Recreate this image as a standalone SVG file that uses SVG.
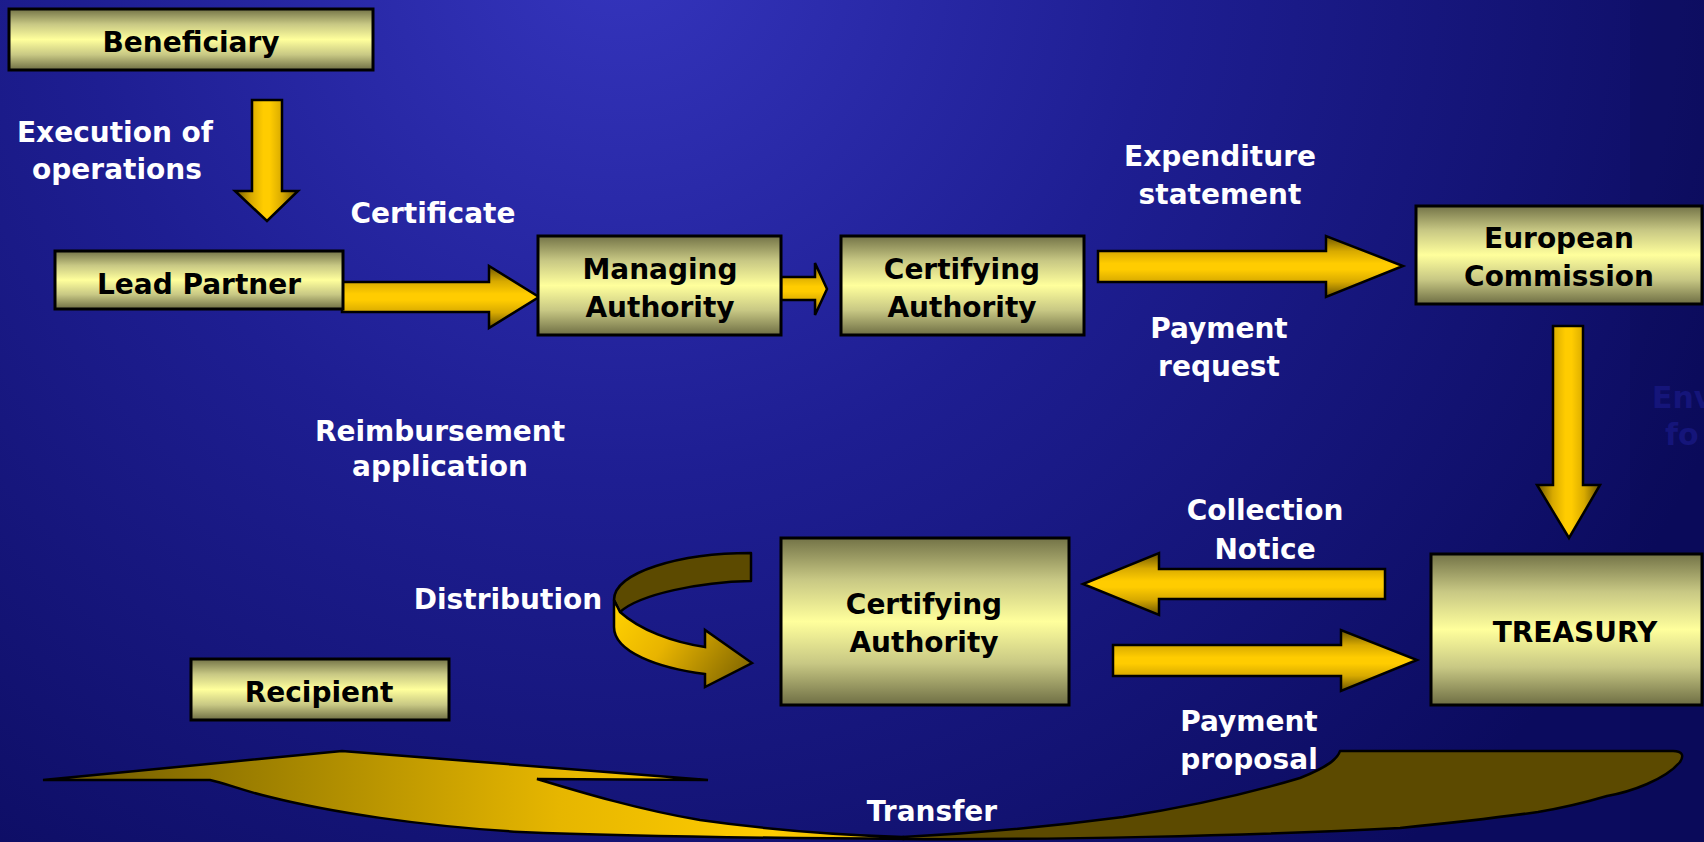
<svg xmlns="http://www.w3.org/2000/svg" width="1704" height="842" viewBox="0 0 1704 842">
<defs>
<radialGradient id="bg" gradientUnits="userSpaceOnUse" cx="620" cy="-60" r="1200">
<stop offset="0" stop-color="#3535be"/>
<stop offset="0.45" stop-color="#1e1e92"/>
<stop offset="1" stop-color="#0b0b5e"/>
</radialGradient>
<linearGradient id="boxG" x1="0" y1="0" x2="0" y2="1">
<stop offset="0" stop-color="#737347"/>
<stop offset="0.25" stop-color="#c8c884"/>
<stop offset="0.5" stop-color="#ffff9c"/>
<stop offset="0.75" stop-color="#c8c884"/>
<stop offset="1" stop-color="#6e6e44"/>
</linearGradient>
<linearGradient id="hArr" x1="0" y1="0" x2="0" y2="1">
<stop offset="0" stop-color="#6a5400"/>
<stop offset="0.25" stop-color="#d8aa00"/>
<stop offset="0.45" stop-color="#ffcc00"/>
<stop offset="0.55" stop-color="#ffcc00"/>
<stop offset="0.75" stop-color="#d8aa00"/>
<stop offset="1" stop-color="#6a5400"/>
</linearGradient>
<linearGradient id="vArr" x1="0" y1="0" x2="1" y2="0">
<stop offset="0" stop-color="#6a5400"/>
<stop offset="0.25" stop-color="#d8aa00"/>
<stop offset="0.45" stop-color="#ffcc00"/>
<stop offset="0.55" stop-color="#ffcc00"/>
<stop offset="0.75" stop-color="#d8aa00"/>
<stop offset="1" stop-color="#6a5400"/>
</linearGradient>
<linearGradient id="distFront" gradientUnits="userSpaceOnUse" x1="620" y1="605" x2="740" y2="690">
<stop offset="0" stop-color="#ffd000"/>
<stop offset="0.4" stop-color="#e8b400"/>
<stop offset="1" stop-color="#7e6400"/>
</linearGradient>
<linearGradient id="transFront" gradientUnits="userSpaceOnUse" x1="43" y1="0" x2="903" y2="0">
<stop offset="0" stop-color="#6a5600"/>
<stop offset="0.3" stop-color="#a88800"/>
<stop offset="0.6" stop-color="#e6b600"/>
<stop offset="0.85" stop-color="#ffcc00"/>
<stop offset="0.97" stop-color="#e0b400"/>
<stop offset="1" stop-color="#6a5600"/>
</linearGradient>
<style>
.box{fill:url(#boxG);stroke:#000;stroke-width:3}
.nt{font-family:"DejaVu Sans",Verdana,sans-serif;font-weight:bold;font-size:28px;fill:#000;text-anchor:middle}
.lb{font-family:"DejaVu Sans",Verdana,sans-serif;font-weight:bold;font-size:28px;fill:#fff;text-anchor:middle}
.ha{fill:url(#hArr);stroke:#000;stroke-width:2.5;stroke-linejoin:miter}
.va{fill:url(#vArr);stroke:#000;stroke-width:2.5;stroke-linejoin:miter}
.back{fill:#5c4a00;stroke:#000;stroke-width:2.5;stroke-linejoin:round}
</style>
</defs>

<rect x="0" y="0" width="1704" height="842" fill="url(#bg)"/>
<rect x="1630" y="0" width="74" height="842" fill="#08084a" opacity="0.2"/>
<g id="faint-text" font-family="'DejaVu Sans',Verdana,sans-serif" font-weight="bold" font-size="30" fill="#15157a">
<text x="1652" y="408">Env</text>
<text x="1665" y="445">fo</text>
</g>

<g id="connectors">
<path id="c-exec" class="va" d="M252,100 H282 V191 H298 L267,221 L235,191 H252 Z"/>
<path id="c-lead-man" class="ha" d="M342,282 H489 V266 L539,297 L489,328 V312 H342 Z"/>
<path id="c-man-cert" class="ha" d="M781,277 H815 V263 L827,289 L815,315 V300 H781 Z"/>
<path id="c-cert-ec" class="ha" d="M1098,251 H1326 V236 L1403,266 L1326,297 V282 H1098 Z"/>
<path id="c-ec-tre" class="va" d="M1553,326 H1583 V485 H1600 L1569,538 L1537,485 H1553 Z"/>
<path id="c-collect" class="ha" d="M1385,569 V599 H1159 V615 L1083,584 L1159,553 V569 Z"/>
<path id="c-propose" class="ha" d="M1113,645 H1341 V630 L1417,660 L1341,691 V676 H1113 Z"/>
<g id="c-distribution">
<path class="back" d="M751,553 L751,581 C700,582 640,594 620,612 L614,600 C614,572 680,553 751,553 Z"/>
<path fill="url(#distFront)" stroke="#000" stroke-width="2.5" stroke-linejoin="miter" d="M614,600 L620,612 C640,630 672,642 705,647 L705,630 L752,663 L705,687 L705,674 C658,668 614,652 614,627 Z"/>
</g>
<g id="c-transfer">
<path class="back" d="M903,837 C960,834 1040,828 1123,817 C1200,805 1260,790 1300,778 C1330,766 1338,758 1340,751 L1673,751 C1683,751 1684,756 1680,762 C1665,780 1630,792 1607,796 C1580,804 1550,810 1538,812 C1480,820 1420,826 1400,828 C1250,836 1040,840 903,839 Z"/>
<path fill="url(#transFront)" stroke="#000" stroke-width="2.5" stroke-linejoin="miter" d="M43,780 L342,751 L708,780 L537,779 C580,792 640,810 700,820 C770,830 840,835 903,837 L903,839 C760,838 620,836 520,832 C420,826 330,812 270,797 C240,790 225,783 210,780 Z"/>
</g>
</g>

<g id="labels">
<text class="lb" x="115" y="142">Execution of</text>
<text class="lb" x="117" y="179">operations</text>
<text class="lb" x="433" y="223">Certificate</text>
<text class="lb" x="1220" y="166">Expenditure</text>
<text class="lb" x="1220" y="204">statement</text>
<text class="lb" x="1219" y="338">Payment</text>
<text class="lb" x="1219" y="376">request</text>
<text class="lb" x="440" y="441">Reimbursement</text>
<text class="lb" x="440" y="476">application</text>
<text class="lb" x="508" y="609">Distribution</text>
<text class="lb" x="1265" y="520">Collection</text>
<text class="lb" x="1265" y="559">Notice</text>
<text class="lb" x="1249" y="731">Payment</text>
<text class="lb" x="1249" y="769">proposal</text>
<text class="lb" x="932" y="821">Transfer</text>
</g>

<g id="beneficiary">
<rect class="box" x="9" y="9" width="364" height="61"/>
<text class="nt" x="191" y="52">Beneficiary</text>
</g>
<g id="lead-partner">
<rect class="box" x="55" y="251" width="288" height="58"/>
<text class="nt" x="199" y="294">Lead Partner</text>
</g>
<g id="managing-authority">
<rect class="box" x="538" y="236" width="243" height="99"/>
<text class="nt" x="660" y="279">Managing</text>
<text class="nt" x="660" y="317">Authority</text>
</g>
<g id="certifying-authority-top">
<rect class="box" x="841" y="236" width="243" height="99"/>
<text class="nt" x="962" y="279">Certifying</text>
<text class="nt" x="962" y="317">Authority</text>
</g>
<g id="european-commission">
<rect class="box" x="1416" y="206" width="286" height="98"/>
<text class="nt" x="1559" y="248">European</text>
<text class="nt" x="1559" y="286">Commission</text>
</g>
<g id="treasury">
<rect class="box" x="1431" y="554" width="271" height="151"/>
<text class="nt" x="1575" y="642">TREASURY</text>
</g>
<g id="certifying-authority-bottom">
<rect class="box" x="781" y="538" width="288" height="167"/>
<text class="nt" x="924" y="614">Certifying</text>
<text class="nt" x="924" y="652">Authority</text>
</g>
<g id="recipient">
<rect class="box" x="191" y="659" width="258" height="61"/>
<text class="nt" x="319" y="702">Recipient</text>
</g>
</svg>
